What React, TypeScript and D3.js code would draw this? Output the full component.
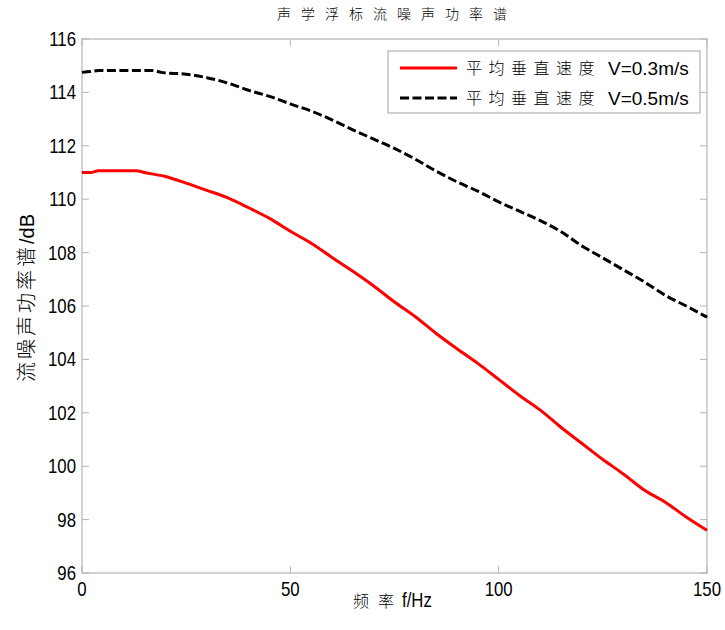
import React, { useEffect, useRef } from 'react';
import * as d3 from 'd3';

// frequency (Hz) sample points
const freqA = [0, 2, 4, 13, 15, 20, 25, 30, 35, 40, 45, 50, 55, 60, 65, 70, 75, 80, 85, 90, 95, 100, 105, 110, 115, 120, 125, 130, 135, 140, 145, 150];
// V = 0.3 m/s
const powerA = [111.0, 111.0, 111.07, 111.07, 111.0, 110.85, 110.6, 110.33, 110.05, 109.68, 109.28, 108.8, 108.35, 107.82, 107.3, 106.75, 106.15, 105.6, 104.97, 104.4, 103.85, 103.25, 102.65, 102.1, 101.45, 100.85, 100.25, 99.7, 99.1, 98.65, 98.1, 97.6];

const freqB = [0, 2, 4, 10, 17, 19, 25, 30, 35, 40, 45, 50, 55, 60, 65, 70, 75, 80, 85, 90, 95, 100, 105, 110, 115, 120, 125, 130, 135, 140, 145, 150];
// V = 0.5 m/s
const powerB = [114.75, 114.78, 114.82, 114.82, 114.82, 114.75, 114.68, 114.55, 114.35, 114.08, 113.85, 113.57, 113.3, 112.97, 112.6, 112.25, 111.9, 111.5, 111.05, 110.65, 110.3, 109.9, 109.55, 109.2, 108.78, 108.25, 107.8, 107.35, 106.9, 106.4, 106.0, 105.58];

const xTicks = [0, 50, 100, 150];
const yTicks = [96, 98, 100, 102, 104, 106, 108, 110, 112, 114, 116];
const legendLabels = ['平均垂直速度  V=0.3m/s', '平均垂直速度  V=0.5m/s'];

const W = 725;
const H = 630;
const cjk = '"Noto Sans CJK SC", sans-serif';
const latin = '"Liberation Sans", Arial, sans-serif';

const App = () => {
  const ref = useRef<SVGSVGElement>(null);

  useEffect(() => {
    const svg = d3.select(ref.current);
    svg.selectAll('*').remove();

    const left = 82, right = 707, top = 39, bottom = 573;
    const x = d3.scaleLinear().domain([0, 150]).range([left, right]);
    const y = d3.scaleLinear().domain([96, 116]).range([bottom, top]);

    svg.append('rect').attr('width', W).attr('height', H).attr('fill', '#fff');

    // axes box
    svg.append('rect')
      .attr('x', left).attr('y', top)
      .attr('width', right - left).attr('height', bottom - top)
      .attr('fill', 'none').attr('stroke', '#b4b4b4').attr('stroke-width', 1.2);

    const tickLen = 7;
    const g = svg.append('g').attr('stroke', '#b4b4b4').attr('stroke-width', 1);
    xTicks.forEach(t => {
      g.append('line').attr('x1', x(t)).attr('x2', x(t)).attr('y1', bottom).attr('y2', bottom - tickLen);
      g.append('line').attr('x1', x(t)).attr('x2', x(t)).attr('y1', top).attr('y2', top + tickLen);
    });
    yTicks.forEach(t => {
      g.append('line').attr('x1', left).attr('x2', left + tickLen).attr('y1', y(t)).attr('y2', y(t));
      g.append('line').attr('x1', right).attr('x2', right - tickLen).attr('y1', y(t)).attr('y2', y(t));
    });

    // tick labels (condensed look)
    const sx = 0.84;
    svg.append('g').selectAll('text').data(xTicks).join('text')
      .attr('transform', d => `translate(${x(d)},${bottom + 23}) scale(${sx},1)`)
      .attr('text-anchor', 'middle')
      .attr('font-family', latin).attr('font-size', 20)
      .attr('fill', '#000')
      .text(d => d);
    svg.append('g').selectAll('text').data(yTicks).join('text')
      .attr('transform', d => `translate(${left - 6},${y(d) + 7}) scale(${sx},1)`)
      .attr('text-anchor', 'end')
      .attr('font-family', latin).attr('font-size', 20)
      .attr('fill', '#000')
      .text(d => d);

    // title & axis labels
    svg.append('text')
      .attr('x', 397).attr('y', 19)
      .attr('text-anchor', 'middle')
      .attr('font-family', cjk).attr('font-size', 14)
      .attr('letter-spacing', 10)
      .attr('font-weight', 300)
      .text('声学浮标流噪声功率谱');

    svg.append('text')
      .attr('x', 353).attr('y', 607)
      .attr('font-family', cjk).attr('font-weight', 300).attr('font-size', 16).attr('letter-spacing', 9)
      .text('频率');
    svg.append('text')
      .attr('transform', `translate(402,607) scale(${sx},1)`)
      .attr('font-family', latin).attr('font-size', 20)
      .text('f/Hz');

    const yl = svg.append('text')
      .attr('transform', `translate(34,${298}) rotate(-90)`)
      .attr('text-anchor', 'middle')
      .attr('font-size', 20);
    yl.append('tspan').attr('font-family', cjk).attr('font-weight', 300).attr('letter-spacing', 3).text('流噪声功率谱');
    yl.append('tspan').attr('font-family', latin).text('/dB');

    // lines
    const line = d3.line<[number, number]>()
      .x(d => x(d[0])).y(d => y(d[1]))
      .curve(d3.curveMonotoneX);

    svg.append('path')
      .datum(freqA.map((f, i) => [f, powerA[i]] as [number, number]))
      .attr('d', line)
      .attr('fill', 'none').attr('stroke', '#ff0000').attr('stroke-width', 3);

    svg.append('path')
      .datum(freqB.map((f, i) => [f, powerB[i]] as [number, number]))
      .attr('d', line)
      .attr('fill', 'none').attr('stroke', '#000').attr('stroke-width', 3)
      .attr('stroke-dasharray', '9,3.5');

    // legend
    const lg = svg.append('g');
    lg.append('rect')
      .attr('x', 388).attr('y', 51).attr('width', 312).attr('height', 62)
      .attr('fill', '#fff').attr('stroke', '#b4b4b4').attr('stroke-width', 1.2);
    const styles = [
      { stroke: '#ff0000', dash: null },
      { stroke: '#000', dash: '9,3.5' }
    ];
    legendLabels.forEach((lab, i) => {
      const ly = 68 + i * 30;
      const l = lg.append('line')
        .attr('x1', 400).attr('x2', 457).attr('y1', ly).attr('y2', ly)
        .attr('stroke', styles[i].stroke).attr('stroke-width', 3);
      if (styles[i].dash) l.attr('stroke-dasharray', styles[i].dash);
      const [cn, en] = lab.split('  ');
      lg.append('text')
        .attr('x', 466).attr('y', ly + 6)
        .attr('font-family', cjk).attr('font-weight', 300).attr('font-size', 16).attr('letter-spacing', 6.5)
        .attr('fill', '#000')
        .text(cn);
      lg.append('text')
        .attr('x', 608).attr('y', ly + 7)
        .attr('font-family', latin).attr('font-size', 19)
        .attr('fill', '#000')
        .text(en);
    });
  }, []);

  return (
    <svg
      ref={ref}
      width={W}
      height={H}
      style={{ position: 'absolute', left: 0, top: 0 }}
    />
  );
};

export default App;
